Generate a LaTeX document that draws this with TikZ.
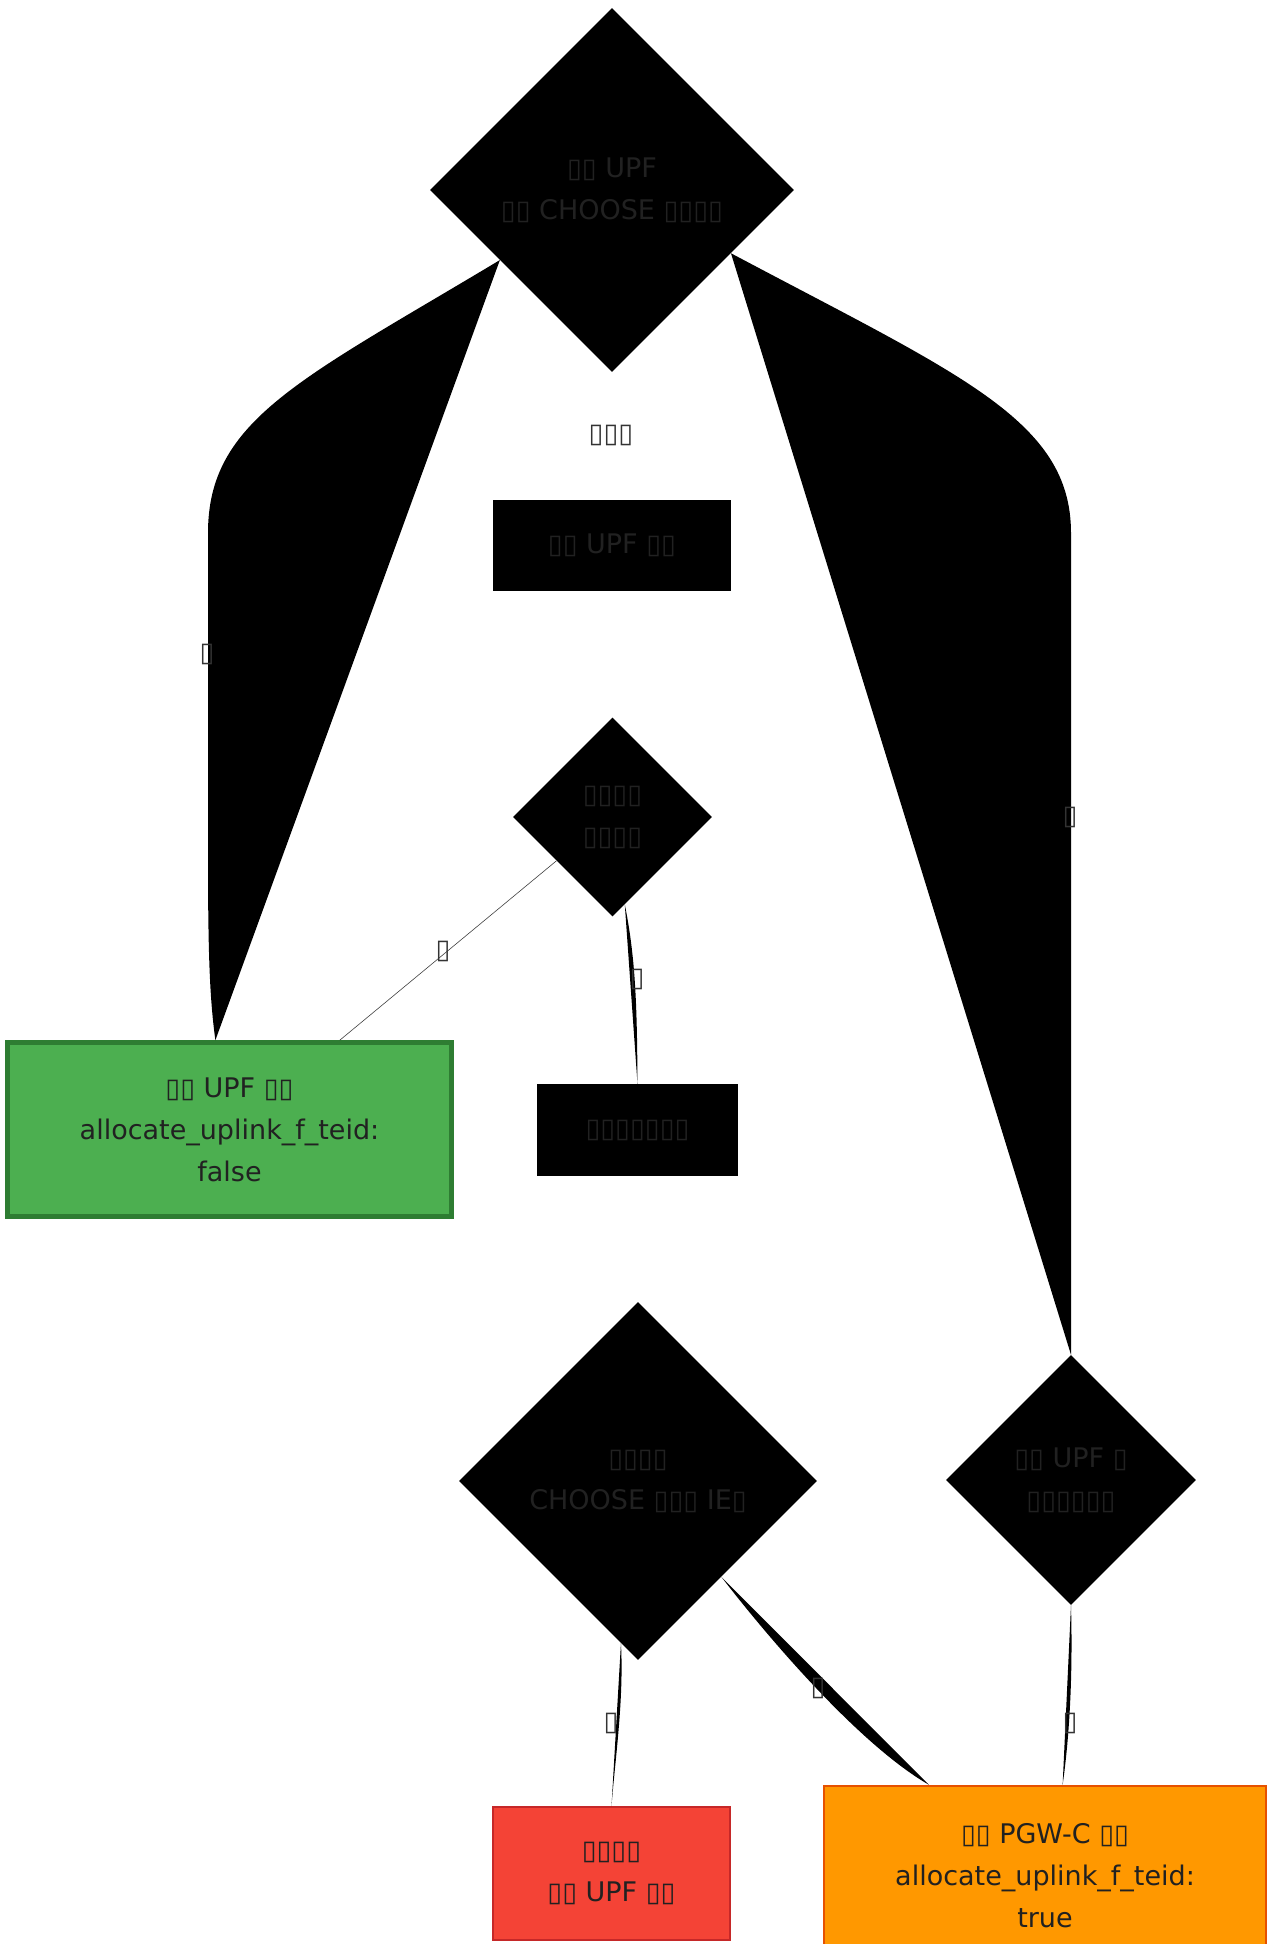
\documentclass[tikz,border=0pt]{standalone}
\usepackage{fontspec}
\setmainfont{DejaVu Sans}
\usepackage{tikz}
\usetikzlibrary{shapes.geometric}
\definecolor{okfill}{HTML}{4CAF50}
\definecolor{okline}{HTML}{2E7D32}
\definecolor{badfill}{HTML}{F44336}
\definecolor{badline}{HTML}{C62828}
\definecolor{pgwfill}{HTML}{FF9800}
\definecolor{pgwline}{HTML}{E65100}
\definecolor{ink}{HTML}{212121}
\definecolor{tagink}{HTML}{333333}

\begin{document}
\begin{tikzpicture}[
  x=1pt,y=-1pt,
  txt/.style={font=\fontsize{27}{42}\selectfont,align=center,text=ink},
  decide/.style={diamond,aspect=1,txt,fill=black,inner sep=0pt},
  dark/.style={txt,fill=black,inner sep=0pt},
  upfend/.style={txt,draw=okline,fill=okfill,line width=4.5pt,inner sep=0pt,
    minimum width=444,minimum height=174},
  failend/.style={txt,draw=badline,fill=badfill,line width=1.5pt,inner sep=0pt,
    minimum width=237,minimum height=133},
  pgwend/.style={txt,draw=pgwline,fill=pgwfill,line width=2.5pt,inner sep=0pt,
    minimum width=442,minimum height=179},
  link/.style={fill=black},
  hair/.style={draw=black!75,line width=.6pt},
  tag/.style={font=\fontsize{27}{42}\selectfont,text=tagink,inner sep=0pt}
]
\useasboundingbox (0,0) rectangle (1273,1944);
\clip (0,0) rectangle (1273,1944);

\node[decide,minimum width=364,minimum height=364] (top) at (612,190)
  {▯▯ UPF\\▯▯ CHOOSE ▯▯▯▯};
\node[dark,minimum width=238,minimum height=91] (upf) at (612,545.5)
  {▯▯ UPF ▯▯};
\node[decide,minimum width=199,minimum height=199] (dec2) at (612.5,817)
  {▯▯▯▯\\▯▯▯▯};
\node[upfend] (green) at (229.5,1129.5)
  {▯▯ UPF ▯▯\\allocate\_uplink\_f\_teid:\\false};
\node[dark,minimum width=201,minimum height=92] (chk) at (637.5,1130)
  {▯▯▯▯▯▯▯};
\node[decide,minimum width=358,minimum height=358] (dec3) at (638,1481)
  {▯▯▯▯\\CHOOSE ▯▯▯ IE▯};
\node[decide,minimum width=250,minimum height=250] (dec4) at (1071,1480)
  {▯▯ UPF ▯\\▯▯▯▯▯▯};
\node[failend] (red) at (611.5,1873.5) {▯▯▯▯\\▯▯ UPF ▯▯};
\node[pgwend] (orange) at (1045,1875.5)
  {▯▯ PGW-C ▯▯\\allocate\_uplink\_f\_teid:\\true};

\fill[link] (top.212) .. controls (300,380) and (208,420) .. (208,533)
  -- (208,855) .. controls (208,960) and (210,1000) .. (green.99) -- cycle;
\fill[link] (top.332) .. controls (960,375) and (1071,420) .. (1071,533)
  -- (dec4.north) -- cycle;
\path (top) -- (upf);
\path (upf) -- (dec2);
\draw[hair] (dec2.218) -- (green.39);
\fill[link] (dec2.278) .. controls (636,960) and (637,1010) .. (chk.north) -- cycle;
\path (chk) -- (dec3);
\fill[link] (dec3.264) .. controls (624,1700) and (615,1760) .. (red.north) -- cycle;
\fill[link] (dec3.311) .. controls (770,1640) and (860,1745) .. (orange.142) -- cycle;
\fill[link] (dec4.south) .. controls (1073,1680) and (1069,1740) .. (orange.79) -- cycle;

\node[tag] at (207,654) {▯};
\node[tag] at (1070,817) {▯};
\node[tag] at (611,435) {▯▯▯};
\node[tag] at (443,951) {▯};
\node[tag] at (637,979) {▯};
\node[tag] at (611,1723) {▯};
\node[tag] at (818,1688) {▯};
\node[tag] at (1070,1723) {▯};
\end{tikzpicture}
\end{document}
